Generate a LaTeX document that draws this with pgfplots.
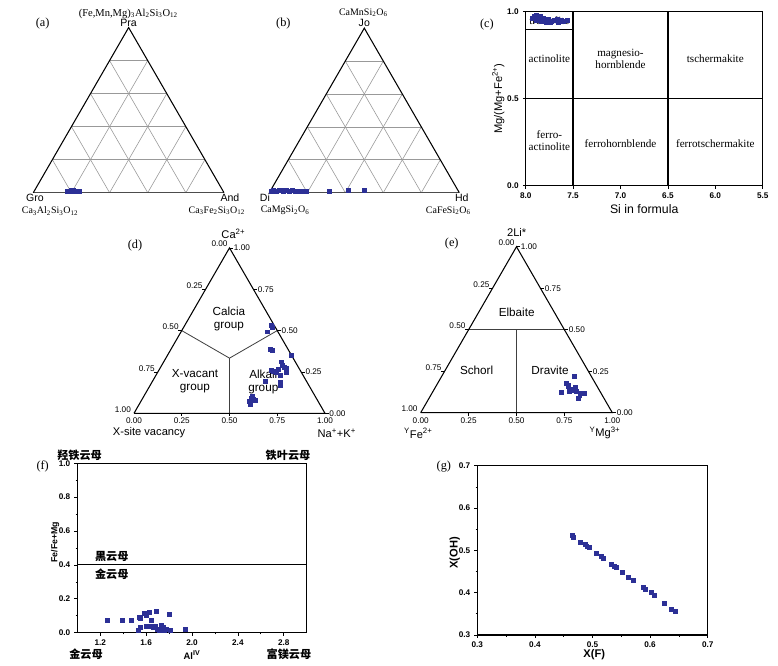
\documentclass[border=0pt]{standalone}
\usepackage{pgfplots}
\pgfplotsset{compat=1.18}
\usepackage{fontspec}
\setmainfont{Liberation Serif}
\setsansfont{Liberation Sans}
\newfontfamily\cjk{Noto Sans CJK SC}
\definecolor{pt}{RGB}{44,48,150}

\newcommand{\tk}{\fontsize{7}{8}\selectfont\sffamily}
\newcommand{\tkb}{\fontsize{7}{8}\selectfont\sffamily\bfseries}
\newcommand{\fm}{\fontsize{8.5}{9.5}\selectfont}
\newcommand{\vl}{\fontsize{9}{10}\selectfont\sffamily}
\newcommand{\pl}{\fontsize{10.5}{12}\selectfont}
\newcommand{\rlf}{\fontsize{9.5}{10.5}\selectfont}
\newcommand{\grp}{\fontsize{10}{11}\selectfont\sffamily}
\newcommand{\lab}{\fontsize{9.5}{11}\selectfont\sffamily}
\newcommand{\cn}{\fontsize{9.5}{10.5}\selectfont\cjk\bfseries}

\tikzset{tks/.style={black, line width=0.6pt}}
\pgfplotsset{
  tri/.style={hide axis, scale only axis, clip=false, anchor=south west,
    xmin=0, xmax=1, ymin=0, ymax=0.866},
  boxax/.style={scale only axis, clip=false, anchor=south west,
    axis line style={line width=0.9pt}, tick align=outside, tick pos=left,
    major tick length=2.5pt, minor tick length=1.5pt,
    tick style={black, line width=0.6pt},
    tick label style={font=\tkb},
    /pgf/number format/fixed, /pgf/number format/fixed zerofill,
    /pgf/number format/precision=1, /pgf/number format/assume math mode=true},
  dots/.style={only marks, mark=square*, mark size=1.7pt, draw=pt, fill=pt},
  gl/.style={gray!80, line width=0.5pt, forget plot},
  ed/.style={black, line width=0.9pt, forget plot},
  rl/.style={black, line width=1.1pt, forget plot},
  il/.style={black!75, line width=0.7pt, forget plot},
}

% triangular grid for (a) and (b)
\newcommand{\trigrid}{%
  \addplot[gl] coordinates {(0.1,0.1732) (0.9,0.1732)};
  \addplot[gl] coordinates {(0.2,0.3464) (0.8,0.3464)};
  \addplot[gl] coordinates {(0.3,0.5196) (0.7,0.5196)};
  \addplot[gl] coordinates {(0.4,0.6928) (0.6,0.6928)};
  \addplot[gl] coordinates {(0.2,0) (0.6,0.6928)};
  \addplot[gl] coordinates {(0.4,0) (0.7,0.5196)};
  \addplot[gl] coordinates {(0.6,0) (0.8,0.3464)};
  \addplot[gl] coordinates {(0.8,0) (0.9,0.1732)};
  \addplot[gl] coordinates {(0.2,0) (0.1,0.1732)};
  \addplot[gl] coordinates {(0.4,0) (0.2,0.3464)};
  \addplot[gl] coordinates {(0.6,0) (0.3,0.5196)};
  \addplot[gl] coordinates {(0.8,0) (0.4,0.6928)};
  \addplot[black!70, line width=0.9pt, forget plot] coordinates {(0,0) (1,0)};
  \addplot[ed] coordinates {(0,0) (0.5,0.866) (1,0)};
}

% frame and ticks for (d) and (e)
\newcommand{\terframe}{%
  \addplot[ed] coordinates {(0,0) (1,0) (0.5,0.866) (0,0)};
  \draw[tks] (0.5,0.866) -- ++(3pt,0) node[anchor=west,font=\tk,inner sep=0.5pt]{1.00};
  \draw[tks] (0.625,0.6495) -- ++(3pt,0) node[anchor=west,font=\tk,inner sep=0.5pt]{0.75};
  \draw[tks] (0.75,0.433) -- ++(3pt,0) node[anchor=west,font=\tk,inner sep=0.5pt]{0.50};
  \draw[tks] (0.875,0.2165) -- ++(3pt,0) node[anchor=west,font=\tk,inner sep=0.5pt]{0.25};
  \draw[tks] (1,0) -- ++(3pt,0) node[anchor=west,font=\tk,inner sep=0.5pt]{0.00};
  \draw[tks] (0.375,0.6495) -- ++(-3pt,0);
  \draw[tks] (0.25,0.433) -- ++(-3pt,0);
  \draw[tks] (0.125,0.2165) -- ++(-3pt,0);
  \node[anchor=south east,font=\tk,inner sep=0.5pt,xshift=-1pt] at (0.5,0.866) {0.00};
  \node[anchor=south east,font=\tk,inner sep=0.5pt,xshift=-2pt] at (0.375,0.6495) {0.25};
  \node[anchor=south east,font=\tk,inner sep=0.5pt,xshift=-2pt] at (0.25,0.433) {0.50};
  \node[anchor=south east,font=\tk,inner sep=0.5pt,xshift=-2pt] at (0.125,0.2165) {0.75};
  \node[anchor=south east,font=\tk,inner sep=0.5pt,xshift=-2pt] at (0,0) {1.00};
  \draw[tks] (0.25,0) -- ++(0,-2.5pt);
  \draw[tks] (0.5,0) -- ++(0,-2.5pt);
  \draw[tks] (0.75,0) -- ++(0,-2.5pt);
  \node[anchor=north,font=\tk,inner sep=0.5pt,yshift=-3.5pt] at (0,0) {0.00};
  \node[anchor=north,font=\tk,inner sep=0.5pt,yshift=-3.5pt] at (0.25,0) {0.25};
  \node[anchor=north,font=\tk,inner sep=0.5pt,yshift=-3.5pt] at (0.5,0) {0.50};
  \node[anchor=north,font=\tk,inner sep=0.5pt,yshift=-3.5pt] at (0.75,0) {0.75};
  \node[anchor=north,font=\tk,inner sep=0.5pt,yshift=-3.5pt] at (1,0) {1.00};
}

\begin{document}
\begin{tikzpicture}
\useasboundingbox (0,0) rectangle (23.34cm,19.98cm);

% (a) garnet
\begin{axis}[tri, at={(0.999cm,14.199cm)}, width=5.721cm, height=4.954cm]
\trigrid
\addplot[dots] coordinates {(0.18,0.007) (0.19,0.01) (0.2,0.006) (0.21,0.011) (0.22,0.007) (0.23,0.006) (0.24,0.009) (0.2,0.012)};
\node[font=\fontsize{9}{10}\selectfont] at (0.498,0.937) {(Fe,Mn,Mg)\textsubscript{3}Al\textsubscript{2}Si\textsubscript{3}O\textsubscript{12}};
\node[font=\vl, anchor=south, inner sep=1pt] at (0.5,0.866) {Pra};
\node[font=\pl] at (0.049,0.888) {(a)};
\node[font=\vl] at (0.009,-0.029) {Gro};
\node[font=\fm] at (0.0876,-0.096) {Ca\textsubscript{3}Al\textsubscript{2}Si\textsubscript{3}O\textsubscript{12}};
\node[font=\vl] at (1.031,-0.029) {And};
\node[font=\fm] at (0.962,-0.096) {Ca\textsubscript{3}Fe\textsubscript{2}Si\textsubscript{3}O\textsubscript{12}};
\end{axis}

% (b) pyroxene
\begin{axis}[tri, at={(8.079cm,14.199cm)}, width=5.70cm, height=4.936cm]
\trigrid
\addplot[dots] coordinates {(0.008,0.01) (0.02,0.012) (0.035,0.01) (0.05,0.015) (0.062,0.012) (0.075,0.01)
  (0.09,0.012) (0.105,0.01) (0.12,0.011) (0.135,0.01) (0.15,0.009) (0.165,0.01) (0.18,0.009) (0.195,0.01)
  (0.316,0.008) (0.413,0.014) (0.498,0.014)};
\node[font=\fm] at (0.495,0.947) {CaMnSi\textsubscript{2}O\textsubscript{6}};
\node[font=\vl, anchor=south, inner sep=1pt] at (0.5,0.866) {Jo};
\node[font=\pl] at (0.074,0.892) {(b)};
\node[font=\vl] at (-0.023,-0.026) {Di};
\node[font=\fm] at (0.083,-0.095) {CaMgSi\textsubscript{2}O\textsubscript{6}};
\node[font=\vl] at (1.013,-0.026) {Hd};
\node[font=\fm] at (0.942,-0.095) {CaFeSi\textsubscript{2}O\textsubscript{6}};
\end{axis}

% (c) amphibole
\begin{axis}[boxax, at={(15.771cm,14.409cm)}, width=7.11cm, height=5.22cm,
  x dir=reverse, xmin=5.5, xmax=8, ymin=0, ymax=1,
  xtick={5.5,6,6.5,7,7.5,8}, ytick={0,0.5,1}]
\addplot[rl] coordinates {(7.5,0) (7.5,1)};
\addplot[rl] coordinates {(6.5,0) (6.5,1)};
\addplot[rl] coordinates {(8,0.5) (5.5,0.5)};
\addplot[black, line width=0.7pt, forget plot] coordinates {(8,0.9) (7.5,0.9)};
\node[font=\rlf] at (7.75,0.95) {tremolite};
\node[font=\rlf] at (7.75,0.732) {actinolite};
\node[font=\rlf, align=center] at (7.0,0.73) {magnesio-\\hornblende};
\node[font=\rlf] at (6.0,0.732) {tschermakite};
\node[font=\rlf, align=center] at (7.75,0.26) {ferro-\\actinolite};
\node[font=\rlf] at (7.0,0.24) {ferrohornblende};
\node[font=\rlf] at (6.0,0.24) {ferrotschermakite};
\addplot[dots] coordinates {(7.93,0.965) (7.91,0.975) (7.89,0.98) (7.87,0.967) (7.85,0.972) (7.83,0.958)
  (7.81,0.962) (7.79,0.952) (7.76,0.956) (7.73,0.946) (7.70,0.952) (7.67,0.956) (7.63,0.95) (7.60,0.946)
  (7.56,0.95) (7.89,0.952) (7.84,0.946) (7.78,0.942) (7.74,0.937) (7.66,0.94)};
\node[font=\lab, rotate=90] at (8.29,0.5) {Mg/(Mg+Fe\textsuperscript{2+})};
\node[font=\fontsize{10.5}{12}\selectfont\sffamily] at (6.75,-0.134) {Si in formula};
\node[font=\pl] at (8.41,0.929) {(c)};
\end{axis}

% (d) tourmaline X site
\begin{axis}[tri, at={(4.02cm,7.581cm)}, width=5.73cm, height=4.962cm]
\addplot[il] coordinates {(0.25,0.433) (0.5,0.2887) (0.75,0.433)};
\addplot[il] coordinates {(0.5,0.2887) (0.5,0)};
\terframe
\node[font=\grp, align=center] at (0.497,0.492) {Calcia\\group};
\node[font=\grp, align=center] at (0.319,0.169) {X-vacant\\group};
\node[font=\grp, align=center] at (0.677,0.166) {Alkali\\group};
\addplot[dots] coordinates {(0.716,0.459) (0.726,0.453) (0.700,0.427) (0.712,0.337) (0.726,0.328)
  (0.822,0.305) (0.770,0.270) (0.778,0.253) (0.796,0.236) (0.799,0.213) (0.756,0.230) (0.721,0.223)
  (0.729,0.218) (0.764,0.200) (0.745,0.215) (0.686,0.169) (0.764,0.165) (0.764,0.148) (0.621,0.091)
  (0.616,0.079) (0.634,0.070) (0.604,0.061) (0.607,0.049) (0.625,0.075) (0.785,0.24)};
\node[font=\lab] at (0.52,0.94) {Ca\textsuperscript{2+}};
\node[font=\lab] at (0.079,-0.103) {X-site vacancy};
\node[font=\lab] at (1.062,-0.105) {Na\textsuperscript{+}+K\textsuperscript{+}};
\node[font=\pl] at (0.005,0.876) {(d)};
\end{axis}

% (e) tourmaline Y site
\begin{axis}[tri, at={(12.621cm,7.599cm)}, width=5.748cm, height=4.978cm]
\addplot[il] coordinates {(0.25,0.433) (0.75,0.433)};
\addplot[il] coordinates {(0.5,0.433) (0.5,0)};
\terframe
\node[font=\grp] at (0.501,0.522) {Elbaite};
\node[font=\grp] at (0.292,0.219) {Schorl};
\node[font=\grp] at (0.675,0.219) {Dravite};
\addplot[dots] coordinates {(0.800,0.188) (0.762,0.153) (0.770,0.136) (0.779,0.122) (0.788,0.115)
  (0.805,0.132) (0.814,0.110) (0.840,0.101) (0.852,0.101) (0.823,0.075) (0.736,0.106) (0.775,0.11)
  (0.768,0.145) (0.795,0.12) (0.83,0.09)};
\node[font=\lab] at (0.501,0.939) {2Li*};
\node[font=\lab] at (-0.0125,-0.107) {\textsuperscript{Y}Fe\textsuperscript{2+}};
\node[font=\lab] at (0.962,-0.107) {\textsuperscript{Y}Mg\textsuperscript{3+}};
\node[font=\pl] at (0.162,0.881) {(e)};
\end{axis}

% (f) mica
\begin{axis}[boxax, at={(2.319cm,0.999cm)}, width=6.882cm, height=5.082cm,
  xmin=1, xmax=3, ymin=0, ymax=1,
  xtick={1.2,1.6,2.0,2.4,2.8}, ytick={0,0.2,0.4,0.6,0.8,1},
  minor xtick={1.4,1.8,2.2,2.6}, minor ytick={0.1,0.3,0.5,0.7,0.9}]
\addplot[black, line width=0.9pt, forget plot] coordinates {(1,0.4) (3,0.4)};
\addplot[dots] coordinates {(1.265,0.075) (1.396,0.075) (1.474,0.071) (1.538,0.091) (1.55,0.083)
  (1.584,0.114) (1.60,0.105) (1.628,0.118) (1.686,0.124) (1.802,0.110) (1.648,0.075) (1.599,0.040)
  (1.634,0.040) (1.677,0.040) (1.736,0.045) (1.75,0.032) (1.779,0.020) (1.808,0.012) (1.715,0.016)
  (1.532,0.012) (1.547,0.035) (1.939,0.020) (1.70,0.020) (1.66,0.035) (1.76,0.012)};
\node[font=\cn] at (1.02,1.049) {羟铁云母};
\node[font=\cn] at (2.837,1.049) {铁叶云母};
\node[font=\cn] at (1.30,0.447) {黑云母};
\node[font=\cn] at (1.30,0.346) {金云母};
\node[font=\cn] at (1.076,-0.125) {金云母};
\node[font=\cn] at (2.845,-0.125) {富镁云母};
\node[font=\fontsize{8}{9}\selectfont\sffamily\bfseries] at (2.0,-0.132) {Al\textsuperscript{IV}};
\node[font=\fontsize{7.5}{9}\selectfont\sffamily\bfseries, rotate=90] at (0.806,0.535) {Fe/Fe+Mg};
\node[font=\pl] at (0.698,0.984) {(f)};
\end{axis}

% (g) F-OH
\begin{axis}[boxax, at={(14.319cm,0.93cm)}, width=6.912cm, height=5.079cm,
  xmin=0.3, xmax=0.7, ymin=0.3, ymax=0.7,
  xtick={0.3,0.4,0.5,0.6,0.7}, ytick={0.3,0.4,0.5,0.6,0.7}, minor tick num=1]
\addplot[dots] coordinates {(0.464,0.536) (0.467,0.532) (0.479,0.520) (0.487,0.515) (0.490,0.510)
  (0.494,0.507) (0.506,0.493) (0.515,0.485) (0.519,0.481) (0.532,0.467) (0.537,0.463) (0.542,0.459)
  (0.551,0.448) (0.562,0.436) (0.571,0.430) (0.588,0.412) (0.591,0.409) (0.602,0.400) (0.607,0.394)
  (0.625,0.375) (0.637,0.361) (0.644,0.355)};
\node[font=\fontsize{9.5}{11}\selectfont\sffamily\bfseries] at (0.503,0.253) {X(F)};
\node[font=\fontsize{9.5}{11}\selectfont\sffamily\bfseries, rotate=90] at (0.261,0.494) {X(OH)};
\node[font=\pl] at (0.242,0.699) {(g)};
\end{axis}
\end{tikzpicture}
\end{document}
